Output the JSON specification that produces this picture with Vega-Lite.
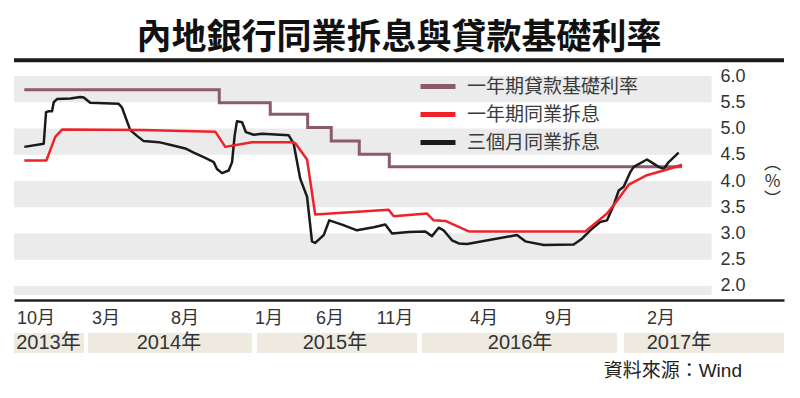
{
  "$schema": "https://vega.github.io/schema/vega-lite/v6.json",
  "background": "white",
  "padding": {"left": 12, "right": 18, "top": 21, "bottom": 0},
  "title": {"text": "內地銀行同業拆息與貸款基礎利率", "font": "Noto Sans CJK TC", "fontSize": 35, "fontWeight": "bold", "color": "#111111", "anchor": "middle", "offset": 2},
  "config": {"view": {"stroke": null}, "font": "'Liberation Sans', 'Noto Sans CJK TC', sans-serif"},
  "spacing": 0,
  "datasets": {
    "bands": [{"lo": 5.5, "hi": 6.0}, {"lo": 4.5, "hi": 5.0}, {"lo": 3.5, "hi": 4.0}, {"lo": 2.5, "hi": 3.0}, {"lo": 1.83, "hi": 2.0}],
    "lpr": [
      {"s": "一年期貸款基礎利率", "t": 0.67, "v": 5.74},
      {"s": "一年期貸款基礎利率", "t": 13.33, "v": 5.49},
      {"s": "一年期貸款基礎利率", "t": 16.64, "v": 5.27},
      {"s": "一年期貸款基礎利率", "t": 19.07, "v": 5.02},
      {"s": "一年期貸款基礎利率", "t": 20.60, "v": 4.76},
      {"s": "一年期貸款基礎利率", "t": 22.42, "v": 4.51},
      {"s": "一年期貸款基礎利率", "t": 24.37, "v": 4.27},
      {"s": "一年期貸款基礎利率", "t": 43.38, "v": 4.27}
    ],
    "red": [
      {"s": "一年期同業拆息", "t": 0.67, "v": 4.39},
      {"s": "一年期同業拆息", "t": 2.10, "v": 4.39},
      {"s": "一年期同業拆息", "t": 2.68, "v": 4.84},
      {"s": "一年期同業拆息", "t": 3.12, "v": 4.98},
      {"s": "一年期同業拆息", "t": 8.31, "v": 4.97},
      {"s": "一年期同業拆息", "t": 13.07, "v": 4.94},
      {"s": "一年期同業拆息", "t": 13.72, "v": 4.65},
      {"s": "一年期同業拆息", "t": 15.45, "v": 4.74},
      {"s": "一年期同業拆息", "t": 18.05, "v": 4.74},
      {"s": "一年期同業拆息", "t": 18.27, "v": 4.72},
      {"s": "一年期同業拆息", "t": 19.03, "v": 4.41},
      {"s": "一年期同業拆息", "t": 19.56, "v": 3.36},
      {"s": "一年期同業拆息", "t": 24.33, "v": 3.45},
      {"s": "一年期同業拆息", "t": 24.66, "v": 3.33},
      {"s": "一年期同業拆息", "t": 26.82, "v": 3.38},
      {"s": "一年期同業拆息", "t": 27.25, "v": 3.25},
      {"s": "一年期同業拆息", "t": 28.01, "v": 3.24},
      {"s": "一年期同業拆息", "t": 29.53, "v": 3.04},
      {"s": "一年期同業拆息", "t": 37.10, "v": 3.04},
      {"s": "一年期同業拆息", "t": 38.51, "v": 3.38},
      {"s": "一年期同業拆息", "t": 38.94, "v": 3.54},
      {"s": "一年期同業拆息", "t": 39.92, "v": 3.93},
      {"s": "一年期同業拆息", "t": 41.10, "v": 4.11},
      {"s": "一年期同業拆息", "t": 42.40, "v": 4.22},
      {"s": "一年期同業拆息", "t": 43.38, "v": 4.31}
    ],
    "black": [
      {"s": "三個月同業拆息", "t": 0.67, "v": 4.65},
      {"s": "三個月同業拆息", "t": 1.93, "v": 4.71},
      {"s": "三個月同業拆息", "t": 2.08, "v": 5.31},
      {"s": "三個月同業拆息", "t": 2.27, "v": 5.33},
      {"s": "三個月同業拆息", "t": 2.47, "v": 5.33},
      {"s": "三個月同業拆息", "t": 2.58, "v": 5.50},
      {"s": "三個月同業拆息", "t": 2.79, "v": 5.56},
      {"s": "三個月同業拆息", "t": 3.66, "v": 5.57},
      {"s": "三個月同業拆息", "t": 4.31, "v": 5.60},
      {"s": "三個月同業拆息", "t": 4.53, "v": 5.59},
      {"s": "三個月同業拆息", "t": 4.95, "v": 5.49},
      {"s": "三個月同業拆息", "t": 6.80, "v": 5.47},
      {"s": "三個月同業拆息", "t": 7.01, "v": 5.40},
      {"s": "三個月同業拆息", "t": 7.55, "v": 4.97},
      {"s": "三個月同業拆息", "t": 7.99, "v": 4.86},
      {"s": "三個月同業拆息", "t": 8.42, "v": 4.76},
      {"s": "三個月同業拆息", "t": 9.40, "v": 4.74},
      {"s": "三個月同業拆息", "t": 10.26, "v": 4.68},
      {"s": "三個月同業拆息", "t": 11.12, "v": 4.62},
      {"s": "三個月同業拆息", "t": 11.67, "v": 4.54},
      {"s": "三個月同業拆息", "t": 12.42, "v": 4.44},
      {"s": "三個月同業拆息", "t": 12.97, "v": 4.36},
      {"s": "三個月同業拆息", "t": 13.18, "v": 4.23},
      {"s": "三個月同業拆息", "t": 13.51, "v": 4.15},
      {"s": "三個月同業拆息", "t": 13.94, "v": 4.20},
      {"s": "三個月同業拆息", "t": 14.16, "v": 4.36},
      {"s": "三個月同業拆息", "t": 14.33, "v": 4.87},
      {"s": "三個月同業拆息", "t": 14.48, "v": 5.14},
      {"s": "三個月同業拆息", "t": 14.81, "v": 5.12},
      {"s": "三個月同業拆息", "t": 15.06, "v": 4.93},
      {"s": "三個月同業拆息", "t": 15.56, "v": 4.88},
      {"s": "三個月同業拆息", "t": 16.10, "v": 4.90},
      {"s": "三個月同業拆息", "t": 17.84, "v": 4.87},
      {"s": "三個月同業拆息", "t": 18.16, "v": 4.71},
      {"s": "三個月同業拆息", "t": 18.59, "v": 4.04},
      {"s": "三個月同業拆息", "t": 19.03, "v": 3.70},
      {"s": "三個月同業拆息", "t": 19.35, "v": 2.85},
      {"s": "三個月同業拆息", "t": 19.56, "v": 2.82},
      {"s": "三個月同業拆息", "t": 20.11, "v": 2.97},
      {"s": "三個月同業拆息", "t": 20.47, "v": 3.25},
      {"s": "三個月同業拆息", "t": 21.30, "v": 3.17},
      {"s": "三個月同業拆息", "t": 22.27, "v": 3.06},
      {"s": "三個月同業拆息", "t": 23.36, "v": 3.12},
      {"s": "三個月同業拆息", "t": 24.11, "v": 3.17},
      {"s": "三個月同業拆息", "t": 24.55, "v": 3.00},
      {"s": "三個月同業拆息", "t": 25.63, "v": 3.03},
      {"s": "三個月同業拆息", "t": 26.71, "v": 3.04},
      {"s": "三個月同業拆息", "t": 27.14, "v": 2.95},
      {"s": "三個月同業拆息", "t": 27.58, "v": 3.11},
      {"s": "三個月同業拆息", "t": 27.90, "v": 3.06},
      {"s": "三個月同業拆息", "t": 28.44, "v": 2.87},
      {"s": "三個月同業拆息", "t": 28.88, "v": 2.81},
      {"s": "三個月同業拆息", "t": 29.42, "v": 2.80},
      {"s": "三個月同業拆息", "t": 32.66, "v": 2.97},
      {"s": "三個月同業拆息", "t": 33.20, "v": 2.85},
      {"s": "三個月同業拆息", "t": 34.40, "v": 2.78},
      {"s": "三個月同業拆息", "t": 36.34, "v": 2.79},
      {"s": "三個月同業拆息", "t": 36.88, "v": 2.90},
      {"s": "三個月同業拆息", "t": 37.42, "v": 3.06},
      {"s": "三個月同業拆息", "t": 38.06, "v": 3.22},
      {"s": "三個月同業拆息", "t": 38.51, "v": 3.25},
      {"s": "三個月同業拆息", "t": 38.94, "v": 3.54},
      {"s": "三個月同業拆息", "t": 39.27, "v": 3.82},
      {"s": "三個月同業拆息", "t": 39.59, "v": 3.89},
      {"s": "三個月同業拆息", "t": 40.02, "v": 4.17},
      {"s": "三個月同業拆息", "t": 40.24, "v": 4.27},
      {"s": "三個月同業拆息", "t": 41.10, "v": 4.41},
      {"s": "三個月同業拆息", "t": 41.43, "v": 4.35},
      {"s": "三個月同業拆息", "t": 41.86, "v": 4.27},
      {"s": "三個月同業拆息", "t": 42.19, "v": 4.23},
      {"s": "三個月同業拆息", "t": 42.51, "v": 4.36},
      {"s": "三個月同業拆息", "t": 43.16, "v": 4.54}
    ],
    "months": [
      {"t": 1.43, "label": "10月"}, {"t": 5.97, "label": "3月"}, {"t": 11.10, "label": "8月"},
      {"t": 16.56, "label": "1月"}, {"t": 20.52, "label": "6月"}, {"t": 24.74, "label": "11月"},
      {"t": 30.52, "label": "4月"}, {"t": 35.39, "label": "9月"}, {"t": 42.01, "label": "2月"}
    ],
    "years": [
      {"start": 0, "end": 4.55, "mid": 2.24, "label": "2013年"},
      {"start": 4.81, "end": 15.45, "mid": 10.06, "label": "2014年"},
      {"start": 15.78, "end": 26.17, "mid": 20.84, "label": "2015年"},
      {"start": 26.49, "end": 39.16, "mid": 32.86, "label": "2016年"},
      {"start": 39.61, "end": 50, "mid": 43.18, "label": "2017年"}
    ]
  },
  "vconcat": [
    {
      "width": 770,
      "height": 238,
      "encoding": {
        "x": {"type": "quantitative", "scale": {"domain": [0, 50], "nice": false, "zero": false},
          "axis": {"orient": "bottom", "domain": true, "domainColor": "#222222", "domainWidth": 2.5, "labels": false, "ticks": false, "grid": false, "title": null}},
        "y": {"type": "quantitative", "scale": {"domain": [1.733, 6.267], "nice": false, "zero": false},
          "axis": {"orient": "right", "offset": -64, "values": [2, 2.5, 3, 3.5, 4, 4.5, 5, 5.5, 6], "tickCount": 9, "format": ".1f", "domain": false, "ticks": false, "grid": false, "labelPadding": 0, "labelAlign": "left", "labelBaseline": "middle", "labelOverlap": false, "labelFontSize": 18, "labelColor": "#333333",
            "title": ["︵", "%", "︶"], "titleAngle": 0, "titleX": 52, "titleY": 101, "titleAlign": "center", "titleBaseline": "middle", "titleFont": "Noto Sans CJK TC", "titleFontSize": 17, "titleFontWeight": "normal", "titleColor": "#333333", "titleLineHeight": 18}}
      },
      "layer": [
        {
          "data": {"name": "bands"},
          "mark": {"type": "rect", "color": "#ebebeb"},
          "encoding": {
            "x": {"datum": 0},
            "x2": {"datum": 45.3},
            "y": {"field": "lo"},
            "y2": {"field": "hi"}
          }
        },
        {
          "data": {"values": [{}]},
          "mark": {"type": "rule", "strokeWidth": 4, "color": "#1a1a1a"},
          "encoding": {"x": {"datum": 0}, "x2": {"datum": 50}, "y": {"datum": 6.3}}
        },
        {
          "data": {"name": "lpr"},
          "mark": {"type": "line", "interpolate": "step-after", "strokeWidth": 3},
          "encoding": {
            "x": {"field": "t"},
            "y": {"field": "v"},
            "color": {"field": "s", "type": "nominal",
              "scale": {"domain": ["一年期貸款基礎利率", "一年期同業拆息", "三個月同業拆息"], "range": ["#8b5a6f", "#ee2229", "#1a1a1a"]},
              "legend": {"title": null, "orient": "none", "legendX": 411.5, "legendY": 12, "symbolType": "M-1.75,0H1.75", "symbolSize": 400, "symbolStrokeWidth": 5, "labelFont": "Noto Sans CJK TC", "labelFontSize": 19, "labelColor": "#3a3a3a", "labelLimit": 400, "rowPadding": 5, "labelOffset": 16.5, "padding": 0}}
          }
        },
        {
          "data": {"name": "black"},
          "mark": {"type": "line", "strokeWidth": 2.5, "strokeJoin": "round"},
          "encoding": {
            "x": {"field": "t"},
            "y": {"field": "v"},
            "color": {"field": "s", "type": "nominal"}
          }
        },
        {
          "data": {"name": "red"},
          "mark": {"type": "line", "strokeWidth": 2.5, "strokeJoin": "round"},
          "encoding": {
            "x": {"field": "t"},
            "y": {"field": "v"},
            "color": {"field": "s", "type": "nominal"}
          }
        }
      ]
    },
    {
      "width": 770,
      "height": 96,
      "layer": [
        {
          "data": {"name": "years"},
          "mark": {"type": "rect", "color": "#eeeae0"},
          "encoding": {
            "x": {"field": "start", "type": "quantitative", "scale": {"domain": [0, 50], "nice": false, "zero": false}, "axis": null},
            "x2": {"field": "end"},
            "y": {"datum": 1.65, "type": "quantitative", "scale": {"domain": [0, 4.8], "reverse": true, "nice": false, "zero": false}, "axis": null},
            "y2": {"datum": 2.65}
          }
        },
        {
          "data": {"name": "years"},
          "mark": {"type": "text", "fontSize": 20, "color": "#333333", "baseline": "middle"},
          "encoding": {
            "x": {"field": "mid", "type": "quantitative"},
            "y": {"datum": 2.15},
            "text": {"field": "label"}
          }
        },
        {
          "data": {"name": "months"},
          "mark": {"type": "text", "fontSize": 18, "color": "#333333", "baseline": "middle"},
          "encoding": {
            "x": {"field": "t", "type": "quantitative"},
            "y": {"datum": 0.95},
            "text": {"field": "label"}
          }
        },
        {
          "data": {"values": [{"label": "資料來源：Wind"}]},
          "mark": {"type": "text", "fontSize": 19, "color": "#222222", "align": "right", "baseline": "middle"},
          "encoding": {
            "x": {"datum": 47.27},
            "y": {"datum": 3.55},
            "text": {"field": "label"}
          }
        }
      ]
    }
  ]
}
